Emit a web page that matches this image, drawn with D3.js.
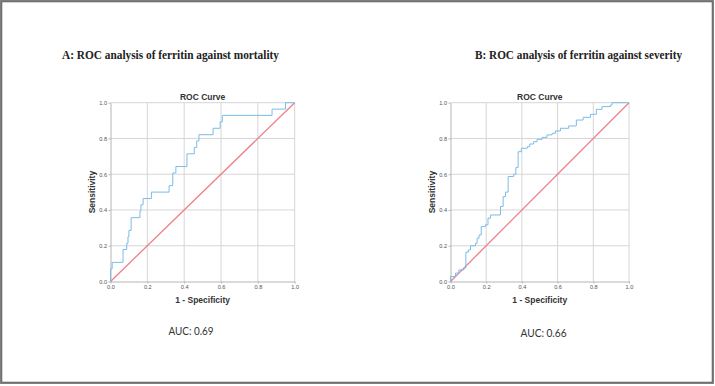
<!DOCTYPE html>
<html>
<head>
<meta charset="utf-8">
<script src="https://cdn.jsdelivr.net/npm/d3@7"></script>
<style>
  body { margin: 0; background: #fff; }
  svg { display: block; }
  .tick text { font-family: Arial, "Liberation Sans", sans-serif; font-size: 5.6px; fill: #555; }
  .domain { stroke: #b5b5b5; }
  .tick line { stroke: #b5b5b5; }
  .grid { stroke: #d6d6d6; stroke-width: 1; }
  .chance { stroke: #ee7f8b; stroke-width: 1.3; }
  .roc { fill: none; stroke: #7bbce8; stroke-width: 1; }
</style>
</head>
<body>
<svg id="fig"></svg>
<script>
// ROC points (1 - specificity, sensitivity)
var fprMortality = [0, 0, 0.009, 0.068, 0.088, 0.095, 0.10, 0.112, 0.16, 0.165,
    0.177, 0.222, 0.318, 0.338, 0.355, 0.415, 0.455, 0.468, 0.48, 0.557,
    0.595, 0.607, 0.877, 0.95, 1.0];
var tprMortality = [0, 0.071, 0.107, 0.179, 0.214, 0.25, 0.286, 0.357, 0.393, 0.429,
    0.464, 0.5, 0.536, 0.607, 0.643, 0.714, 0.75, 0.786, 0.821, 0.857,
    0.893, 0.929, 0.964, 1.0, 1.0];

var fprSeverity = [0, 0, 0.028, 0.047, 0.075, 0.086, 0.10, 0.112, 0.14, 0.149,
    0.16, 0.172, 0.196, 0.21, 0.224, 0.28, 0.295, 0.308, 0.323, 0.354,
    0.366, 0.379, 0.397, 0.43, 0.444, 0.466, 0.485, 0.513, 0.541, 0.569,
    0.588, 0.616, 0.662, 0.705, 0.743, 0.784, 0.817, 0.849, 0.896, 0.905, 1.0];
var tprSeverity = [0, 0.028, 0.047, 0.065, 0.075, 0.164, 0.177, 0.2, 0.214, 0.242,
    0.26, 0.307, 0.317, 0.354, 0.372, 0.42, 0.475, 0.5, 0.587, 0.6,
    0.637, 0.726, 0.745, 0.754, 0.769, 0.782, 0.795, 0.806, 0.82, 0.829,
    0.842, 0.857, 0.87, 0.903, 0.918, 0.935, 0.963, 0.978, 0.987, 1.0, 1.0];

var referenceLine = [0, 1];
var tickValues = [0, 0.2, 0.4, 0.6, 0.8, 1.0];
var panelTitles = ["A: ROC analysis of ferritin against mortality", "B: ROC analysis of ferritin against severity"];
var aucLabels = ["AUC: 0.69", "AUC: 0.66"];

var W = 715, H = 386;
var svg = d3.select("#fig").attr("width", W).attr("height", H);

// outer frame
svg.append("rect")
    .attr("x", 1.2).attr("y", 1.2)
    .attr("width", W - 3.4).attr("height", H - 4.4)
    .attr("fill", "none")
    .attr("stroke", "#707070")
    .attr("stroke-width", 2.2);

var panels = [
    {left: 110.5, right: 294.7, fpr: fprMortality, tpr: tprMortality,
     title: panelTitles[0], titleX: 62, titleW: 217, auc: aucLabels[0], aucX: 168.5, aucY: 335, aucW: 45},
    {left: 450.5, right: 629, fpr: fprSeverity, tpr: tprSeverity,
     title: panelTitles[1], titleX: 475, titleW: 207, auc: aucLabels[1], aucX: 520.5, aucY: 337, aucW: 46}
];
var plotTop = 102.7, plotBottom = 281.5;

panels.forEach(function(p) {
    var x = d3.scaleLinear().domain([0, 1]).range([p.left, p.right]);
    var y = d3.scaleLinear().domain([0, 1]).range([plotBottom, plotTop]);
    var g = svg.append("g");

    // grid
    g.selectAll("line.vgrid")
        .data(tickValues.slice(1))
        .enter().append("line")
        .attr("class", "grid vgrid")
        .attr("x1", d => x(d)).attr("x2", d => x(d))
        .attr("y1", plotTop).attr("y2", plotBottom);
    g.selectAll("line.hgrid")
        .data(tickValues.slice(1))
        .enter().append("line")
        .attr("class", "grid hgrid")
        .attr("x1", p.left).attr("x2", p.right)
        .attr("y1", d => y(d)).attr("y2", d => y(d));

    g.append("g")
        .attr("transform", "translate(0," + plotBottom + ")")
        .call(d3.axisBottom(x).tickValues(tickValues).tickFormat(d3.format(".1f")).tickSize(2).tickPadding(1.5).tickSizeOuter(0));
    g.append("g")
        .attr("transform", "translate(" + p.left + ",0)")
        .call(d3.axisLeft(y).tickValues(tickValues).tickFormat(d3.format(".1f")).tickSize(2).tickPadding(1.5).tickSizeOuter(0));

    // chance line
    g.append("line")
        .attr("class", "chance")
        .attr("x1", x(referenceLine[0])).attr("y1", y(referenceLine[0]))
        .attr("x2", x(referenceLine[1])).attr("y2", y(referenceLine[1]));

    // roc curve
    var pts = p.fpr.map((f, i) => [f, p.tpr[i]]);
    var line = d3.line()
        .x(d => x(d[0]))
        .y(d => y(d[1]))
        .curve(d3.curveStepAfter);
    g.append("path")
        .datum(pts)
        .attr("class", "roc")
        .attr("d", line);

    var cx = (p.left + p.right) / 2;
    g.append("text")
        .attr("x", cx).attr("y", 99.5)
        .attr("text-anchor", "middle")
        .attr("font-family", "Arial, 'Liberation Sans', sans-serif")
        .attr("font-weight", "bold")
        .attr("font-size", "8.5px")
        .attr("fill", "#333")
        .text("ROC Curve");
    g.append("text")
        .attr("x", cx).attr("y", 303)
        .attr("text-anchor", "middle")
        .attr("font-family", "Arial, 'Liberation Sans', sans-serif")
        .attr("font-weight", "bold")
        .attr("font-size", "8.5px")
        .attr("fill", "#333")
        .text("1 - Specificity");
    g.append("text")
        .attr("transform", "translate(" + (p.left - 16) + "," + ((plotTop + plotBottom) / 2) + ") rotate(-90)")
        .attr("text-anchor", "middle")
        .attr("font-family", "Arial, 'Liberation Sans', sans-serif")
        .attr("font-weight", "bold")
        .attr("font-size", "8.5px")
        .attr("fill", "#333")
        .text("Sensitivity");

    // panel heading
    svg.append("text")
        .attr("x", p.titleX).attr("y", 59)
        .attr("font-family", "'Liberation Serif', 'Times New Roman', serif")
        .attr("font-weight", "bold")
        .attr("font-size", "12.5px")
        .attr("fill", "#222")
        .attr("textLength", p.titleW)
        .attr("lengthAdjust", "spacingAndGlyphs")
        .text(p.title);

    svg.append("text")
        .attr("x", p.aucX).attr("y", p.aucY)
        .attr("font-family", "Lato, 'Open Sans', sans-serif")
        .attr("font-size", "10.5px")
        .attr("fill", "#333")
        .attr("textLength", p.aucW)
        .attr("lengthAdjust", "spacingAndGlyphs")
        .text(p.auc);
});
</script>
</body>
</html>
